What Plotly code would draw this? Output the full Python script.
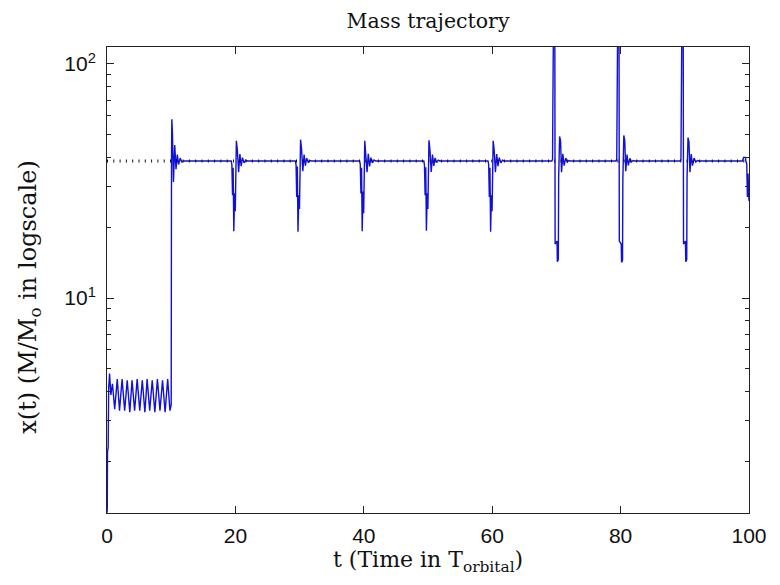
import plotly.graph_objects as go

# ---- data ----
t_vals = [
    0.0, 0.04, 0.08, 0.18, 0.26, 0.4, 0.6, 0.85, 1.2, 1.6, 1.95, 2.35, 2.75, 3.15, 3.55,
    3.9, 4.3, 4.7, 5.1, 5.5, 5.9, 6.25, 6.65, 7.05, 7.45, 7.85, 8.25, 8.65, 9.05, 9.45, 9.8,
    10.0, 10.05, 10.1, 10.2, 10.35, 10.55, 10.75, 10.95, 11.15, 11.4, 11.65, 11.9,
    19.35, 19.45, 19.55, 19.65, 19.75, 19.88, 19.98, 20.15, 20.3, 20.5, 20.7, 20.9, 21.1, 21.35, 21.6, 21.85,
    29.35, 29.45, 29.55, 29.65, 29.75, 29.88, 29.98, 30.15, 30.3, 30.5, 30.7, 30.9, 31.1, 31.35, 31.6, 31.85,
    39.35, 39.45, 39.55, 39.65, 39.75, 39.88, 39.98, 40.15, 40.3, 40.5, 40.7, 40.9, 41.1, 41.35, 41.6, 41.85,
    49.35, 49.45, 49.55, 49.65, 49.75, 49.88, 49.98, 50.15, 50.3, 50.5, 50.7, 50.9, 51.1, 51.35, 51.6, 51.85,
    59.35, 59.45, 59.55, 59.65, 59.75, 59.88, 59.98, 60.15, 60.3, 60.5, 60.7, 60.9, 61.1, 61.35, 61.6, 61.85,
    69.3, 69.4, 69.45, 69.55, 69.75, 69.8, 70.1, 70.15, 70.3, 70.35, 70.5, 70.65, 70.8, 71.0, 71.2, 71.45, 71.7, 71.95, 72.2,
    79.3, 79.4, 79.45, 79.55, 79.75, 79.8, 80.1, 80.15, 80.3, 80.35, 80.5, 80.65, 80.8, 81.0, 81.2, 81.45, 81.7, 81.95, 82.2,
    89.3, 89.4, 89.45, 89.55, 89.75, 89.8, 90.1, 90.15, 90.3, 90.35, 90.5, 90.65, 90.8, 91.0, 91.2, 91.45, 91.7, 91.95, 92.2,
    99.0, 99.15, 99.45, 99.5, 99.65, 99.75, 99.85, 100.0,
]
x_vals = [
    1.21, 1.25, 2.2, 2.3, 4.1, 4.75, 3.85, 4.3, 3.35, 4.5, 3.3, 4.5, 3.3, 4.45, 3.25,
    4.45, 3.3, 4.5, 3.3, 4.45, 3.25, 4.5, 3.3, 4.45, 3.25, 4.5, 3.3, 4.45, 3.25, 4.5, 3.3,
    3.5, 40.0, 58.0, 50.0, 31.3, 45.0, 35.5, 41.0, 37.2, 39.6, 38.1, 38.5,
    38.5, 37.2, 27.5, 36.0, 19.3, 28.0, 23.5, 47.0, 43.0, 34.5, 41.2, 36.6, 39.8, 37.8, 38.8, 38.5,
    38.5, 37.0, 27.0, 36.5, 19.2, 27.5, 24.0, 47.5, 43.5, 34.8, 41.0, 36.8, 39.6, 37.9, 38.7, 38.5,
    38.5, 37.3, 28.0, 36.0, 19.3, 28.5, 23.0, 47.0, 42.5, 34.5, 41.3, 36.5, 39.8, 37.8, 38.9, 38.5,
    38.5, 37.0, 27.5, 36.2, 19.4, 28.0, 24.0, 47.2, 43.0, 34.6, 41.0, 36.7, 39.7, 37.9, 38.8, 38.5,
    38.5, 37.2, 27.0, 36.0, 19.2, 27.5, 23.5, 47.0, 43.2, 34.5, 41.2, 36.6, 39.8, 37.8, 38.8, 38.5,
    38.5, 39.2, 66.0, 160.0, 160.0, 17.0, 17.5, 14.3, 14.6, 32.5, 49.0, 47.0, 34.5, 41.3, 36.8, 39.6, 38.1, 38.7, 38.5,
    38.5, 39.2, 66.0, 160.0, 160.0, 17.5, 17.0, 14.2, 14.5, 32.0, 49.5, 47.0, 34.8, 41.0, 36.9, 39.5, 38.2, 38.7, 38.5,
    38.5, 39.2, 66.0, 160.0, 160.0, 17.0, 17.5, 14.3, 14.6, 32.5, 48.5, 46.5, 34.5, 41.2, 36.8, 39.6, 38.1, 38.7, 38.5,
    38.5, 39.9, 39.9, 38.5, 37.5, 27.0, 34.0, 26.0,
]
ref_t = [0, 100]
ref_x = [38.5, 38.5]

x_ticks = [0, 20, 40, 60, 80, 100]
y_major = [10, 100]
y_major_text = ["10<sup>1</sup>", "10<sup>2</sup>"]
y_minor = [2, 3, 4, 5, 6, 7, 8, 9, 20, 30, 40, 50, 60, 70, 80, 90]

fig = go.Figure()
fig.add_trace(go.Scatter(x=t_vals, y=x_vals, mode="lines",
                         line=dict(color="#1010d8", width=1.4),
                         showlegend=False, hoverinfo="skip"))
fig.add_trace(go.Scatter(x=ref_t, y=ref_x, mode="lines",
                         line=dict(color="#111111", width=3, dash="1px,5.3px"),
                         showlegend=False, hoverinfo="skip"))

tick_font = dict(family="Liberation Sans, Arial, sans-serif", size=21, color="#111")
serif = "DejaVu Serif, serif"

fig.update_layout(
    width=780, height=585,
    margin=dict(l=107, r=31, t=47, b=72),
    paper_bgcolor="white", plot_bgcolor="white",
    title=dict(text="Mass trajectory", x=0.5, xref="paper", y=1 - 21 / 585,
               yref="container", xanchor="center", yanchor="middle",
               font=dict(family=serif, size=20.5, color="#111")),
    xaxis=dict(range=[0, 100], tickvals=x_ticks, ticks="inside", ticklen=7,
               tickcolor="#222", showline=True, linecolor="#222", linewidth=1,
               mirror="ticks", showgrid=False, zeroline=False, tickfont=tick_font,
               ticklabelstandoff=4, automargin=False),
    yaxis=dict(type="log", range=[0.0812, 2.0726], tickvals=y_major, ticktext=y_major_text,
               ticks="inside", ticklen=7, tickcolor="#222", showline=True,
               linecolor="#222", linewidth=1, mirror="ticks", showgrid=False,
               zeroline=False, tickfont=tick_font, ticklabelstandoff=6, automargin=False,
               minor=dict(tickvals=y_minor, ticks="inside", ticklen=4,
                          tickcolor="#222", showgrid=False)),
    annotations=[
        dict(text="t (Time in T<sub>orbital</sub>)", xref="paper", yref="paper",
             x=0.5, y=-0.105, xanchor="center", yanchor="middle", showarrow=False,
             font=dict(family=serif, size=22, color="#111")),
        dict(text="x(t) (M/M<sub>o</sub> in logscale)", xref="paper", yref="paper",
             x=-0.122, y=0.4635, xanchor="center", yanchor="middle", showarrow=False,
             textangle=-90, font=dict(family=serif, size=24, color="#111")),
    ],
)

fig.write_html("out.html", config={"displayModeBar": False},
               post_script="document.body.style.margin='0';")
